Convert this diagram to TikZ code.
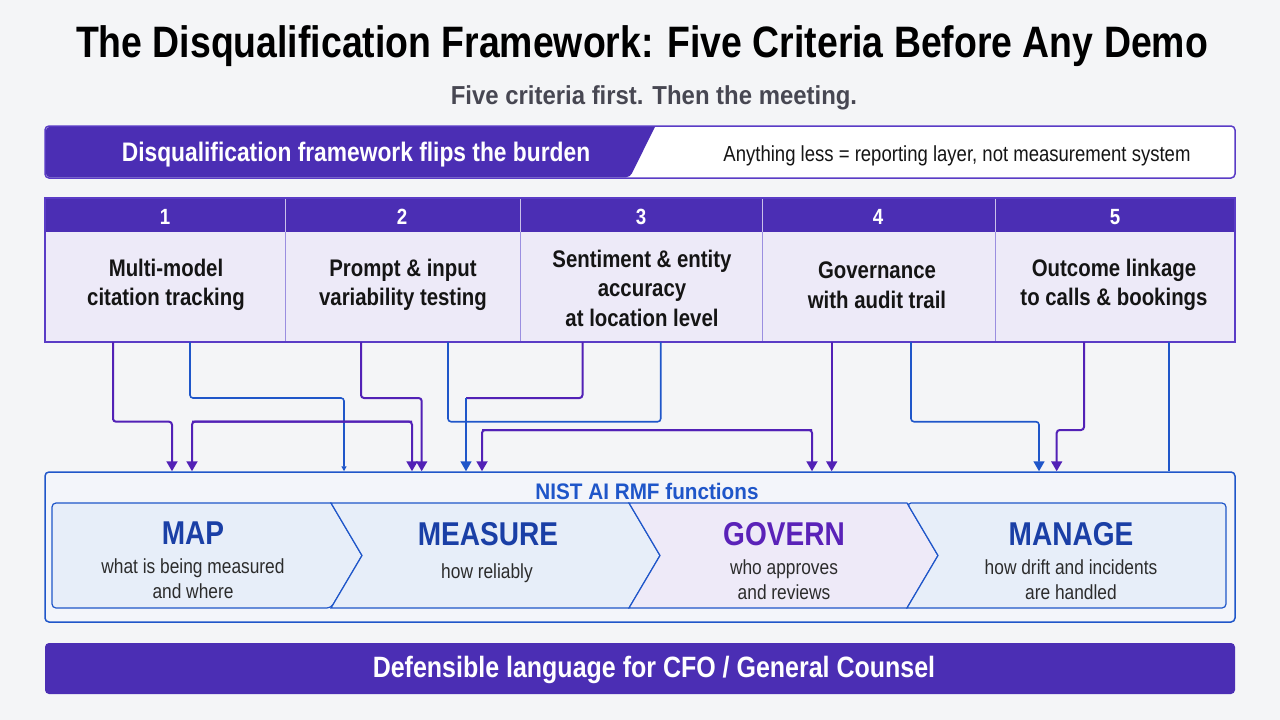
\documentclass[tikz,border=0pt]{standalone}
\usepackage{fontspec}
\setmainfont{Liberation Sans}[FakeStretch=0.85]
\newfontfamily\widefont{Liberation Sans}[FakeStretch=0.92]
\usetikzlibrary{arrows.meta}
\definecolor{bg}{HTML}{F4F5F7}
\definecolor{purp}{HTML}{4B2EB4}
\definecolor{purpline}{HTML}{5A3CC6}
\definecolor{purplight}{HTML}{9A8EE0}
\definecolor{cellfill}{HTML}{EDEAF8}
\definecolor{blu}{HTML}{1F56C9}
\definecolor{cpurp}{HTML}{5221B6}
\definecolor{nistfill}{HTML}{F3F5FA}
\definecolor{chevblue}{HTML}{E7EEF9}
\definecolor{chevpurp}{HTML}{EEEAF8}
\definecolor{headblue}{HTML}{1A3FA6}
\definecolor{headpurp}{HTML}{5A22B8}
\definecolor{subgray}{HTML}{474752}
\definecolor{txt}{HTML}{151515}
\tikzset{
  numlabel/.style={text=white,font=\bfseries\fontsize{22}{24}\selectfont},
  celltext/.style={text=txt,align=center,font=\bfseries\fontsize{24}{29.5}\selectfont},
  pconn/.style={draw=cpurp,line width=2pt,rounded corners=3pt},
  bconn/.style={draw=blu,line width=1.6pt,rounded corners=3pt},
  ptip/.style={-{Triangle[width=11pt,length=10pt]}},
  smalltip/.style={-{Triangle[width=5pt,length=5pt]}},
  chev/.style={draw=blu,line width=1.2pt},
  fhead/.style={font=\bfseries\fontsize{33}{36}\selectfont},
  fsub/.style={text=txt!90,align=center,font=\fontsize{20.4}{25}\selectfont},
}
\begin{document}
\begin{tikzpicture}[x=1pt,y=-1pt]
\fill[bg] (0,0) rectangle (1280,720);
\useasboundingbox (0,0) rectangle (1280,720);

% title
\node[font=\bfseries\fontsize{44}{48}\selectfont,text=black] (title) at (642,46) {The Disqualification Framework: Five Criteria Before Any Demo};
\node[font=\widefont\bfseries\fontsize{26}{28}\selectfont,text=subgray] (subtitle) at (654,98) {Five criteria first. Then the meeting.};

% banner
\draw[purpline,line width=1.5pt,fill=white,rounded corners=4pt] (45,126) rectangle (1235,178);
\fill[purp,rounded corners=4pt] (655,126.75) -- (45.75,126.75) -- (45.75,177.25) -- (630,177.25) [sharp corners] -- cycle;
\node[text=white,font=\bfseries\fontsize{26.8}{30}\selectfont] (bannerL) at (356,155) {Disqualification framework flips the burden};
\node[text=txt,font=\fontsize{21.8}{24}\selectfont] (bannerR) at (957,156) {Anything less = reporting layer, not measurement system};

% criteria table
\fill[cellfill] (45,198) rectangle (1235,342);
\fill[purp] (45,198) rectangle (1235,232);
\foreach \x in {285,520,762,995}{
  \draw[white!70!purp,line width=1pt] (\x,198) -- (\x,232);
  \draw[purplight,line width=1pt] (\x,232) -- (\x,342);
}
\draw[purpline,line width=2pt] (45,198) rectangle (1235,342);

\node[numlabel] (n1) at (165,217) {1};
\node[numlabel] (n2) at (402,217) {2};
\node[numlabel] (n3) at (641,217) {3};
\node[numlabel] (n4) at (878,217) {4};
\node[numlabel] (n5) at (1115,217) {5};

\node[celltext] (c1) at (166,285) {Multi-model\\citation tracking};
\node[celltext] (c2) at (403,285) {Prompt \& input\\variability testing};
\node[celltext] (c3) at (642,288) {Sentiment \& entity\\accuracy\\at location level};
\node[celltext] (c4) at (877,285) {Governance\\with audit trail};
\node[celltext] (c5) at (1114,285) {Outcome linkage\\to calls \& bookings};

% NIST box
\node[draw=blu,line width=1.5pt,fill=nistfill,rounded corners=4pt,minimum width=1190pt,minimum height=150pt,inner sep=0pt] (nist) at (640,547) {};
\node[text=blu,font=\widefont\bfseries\fontsize{22.5}{24}\selectfont] (nisttitle) at (647,491) {NIST AI RMF functions};

% chevrons
\draw[chev,fill=chevblue,rounded corners=4pt] (331,503) -- (52,503) -- (52,608) -- (331,608) [sharp corners] -- (362,555.5) -- cycle;
\draw[chev,fill=chevblue] (331,503) -- (629,503) -- (660,555.5) -- (629,608) -- (331,608) -- (362,555.5) -- cycle;
\draw[chev,fill=chevpurp] (629,503) -- (907,503) -- (938,555.5) -- (907,608) -- (629,608) -- (660,555.5) -- cycle;
\draw[chev,fill=chevblue,rounded corners=4pt] (907,608) -- (1226,608) -- (1226,503) -- (907,503) [sharp corners] -- (938,555.5) -- cycle;

\node[fhead,text=headblue] (map) at (193,533) {MAP};
\node[fsub] (mapsub) at (193,579) {what is being measured\\and where};
\node[fhead,text=headblue] (measure) at (488,534) {MEASURE};
\node[fsub] (measuresub) at (487,573) {how reliably};
\node[fhead,text=headpurp] (govern) at (784,534) {GOVERN};
\node[fsub] (governsub) at (784,580) {who approves\\and reviews};
\node[fhead,text=headblue] (manage) at (1071,534) {MANAGE};
\node[fsub] (managesub) at (1071,580) {how drift and incidents\\are handled};

% connectors
\coordinate (j1) at (113,421.7);
\coordinate (j2) at (466,398);
\draw[pconn,ptip] (113,342) |- (j1) -| (nist.north -| 172,0);
\draw[bconn,smalltip] (190,342) |- (344,398) -- (nist.north -| 344,0);
\draw[pconn,ptip] (412,421.7) -- (192,421.7) -- (nist.north -| 192,0);
\draw[pconn,ptip] (192,421.7) -| (nist.north -| 412,0);
\draw[pconn,ptip] (361,342) |- (421.7,398) -- (nist.north -| 421.7,0);
\draw[bconn] (448,342) |- (660.7,421.7) -- (660.7,342);
\draw[pconn] (582.5,342) |- (j2);
\draw[bconn,ptip,rounded corners=0pt] (j2) -- (nist.north -| 466,0);
\draw[pconn,ptip] (812,430) -- (482,430) -- (nist.north -| 482,0);
\draw[pconn,ptip] (482,430) -| (nist.north -| 812,0);
\draw[pconn,ptip] (831.7,342) -- (nist.north -| 831.7,0);
\draw[bconn,ptip] (911,342) |- (1039,421.7) -- (nist.north -| 1039,0);
\draw[pconn,ptip] (1084,342) |- (1056.7,430) -- (nist.north -| 1056.7,0);
\draw[bconn] (1169,342) -- (nist.north -| 1169,0);

% bottom bar
\node[fill=purp,rounded corners=4pt,minimum width=1190pt,minimum height=51pt,inner sep=0pt] (bar) at (640,668.5) {};
\node[text=white,font=\bfseries\fontsize{29.4}{32}\selectfont] (bartext) at (654,670) {Defensible language for CFO / General Counsel};
\end{tikzpicture}
\end{document}
